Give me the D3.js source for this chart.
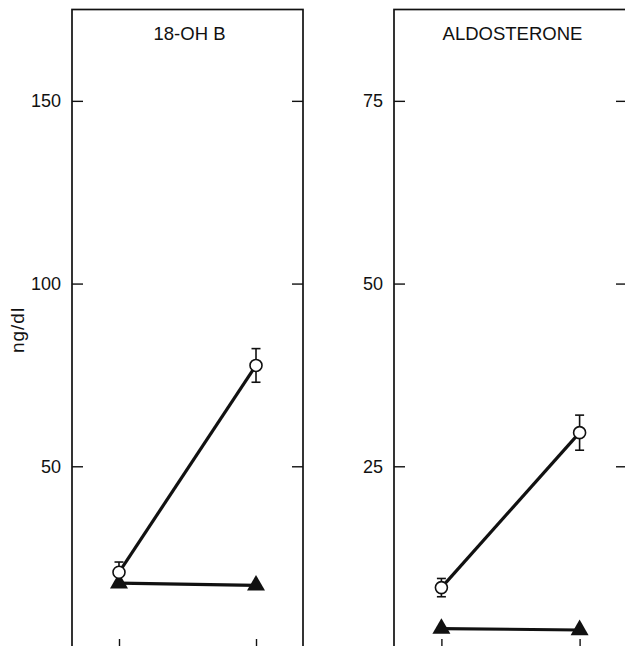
<!DOCTYPE html>
<html>
<head>
<meta charset="utf-8">
<script src="https://cdn.jsdelivr.net/npm/d3@7"></script>
<style>
  body { margin: 0; background: #fff; }
  text { font-family: "Liberation Sans", Arial, sans-serif; fill: #111; }
</style>
</head>
<body>
<svg id="chart"></svg>
<script>
// two sampling times (x labels are cut off in the original figure)
const sessions = ['before', 'after'];
const panelTitles = ['18-OH B', 'ALDOSTERONE'];
const yMax = [175, 87.5];
const yTicks = [[50, 100, 150], [25, 50, 75]];
// open circles: mean and SE
const circleMeans = [[21.0, 77.6], [8.4, 29.6]];
const circleErrors = [[2.8, 4.6], [1.25, 2.4]];
// filled triangles: mean
const triangleMeans = [[18.0, 17.4], [2.8, 2.6]];

const width = 625, height = 646;
const ink = '#111';

const svg = d3.select('#chart')
    .attr('width', width)
    .attr('height', height);

// panel frames in page pixels
const frames = [
  {left: 72, right: 303},
  {left: 394, right: 627}
];
const frameTop = 9.5, frameBottom = 649;

frames.forEach((f, i) => {
  const x = d3.scalePoint()
      .domain(sessions)
      .range([f.left, f.right])
      .padding(0.343);

  const y = d3.scaleLinear()
      .domain([0, yMax[i]])
      .range([frameBottom, frameTop]);

  const g = svg.append('g');

  // frame
  g.append('rect')
      .attr('x', f.left)
      .attr('y', frameTop)
      .attr('width', f.right - f.left)
      .attr('height', frameBottom - frameTop)
      .attr('fill', 'none')
      .attr('stroke', ink)
      .attr('stroke-width', 1.7);

  // left axis with inward ticks
  g.append('g')
      .attr('transform', `translate(${f.left},0)`)
      .call(d3.axisLeft(y).tickValues(yTicks[i]).tickSize(-11).tickPadding(11))
      .call(a => a.select('.domain').remove())
      .call(a => a.selectAll('line').attr('stroke', ink).attr('stroke-width', 1.4))
      .call(a => a.selectAll('text')
          .attr('font-size', 18)
          .attr('font-family', '"Liberation Sans", Arial, sans-serif')
          .attr('fill', ink));

  // right axis, ticks only
  g.append('g')
      .attr('transform', `translate(${f.right},0)`)
      .call(d3.axisRight(y).tickValues(yTicks[i]).tickSize(-11).tickFormat(''))
      .call(a => a.select('.domain').remove())
      .call(a => a.selectAll('line').attr('stroke', ink).attr('stroke-width', 1.4));

  // bottom ticks
  g.append('g')
      .attr('transform', `translate(0,${frameBottom})`)
      .call(d3.axisBottom(x).tickSize(-10).tickFormat(''))
      .call(a => a.select('.domain').remove())
      .call(a => a.selectAll('line').attr('stroke', ink).attr('stroke-width', 1.4));

  // title
  g.append('text')
      .attr('x', (f.left + f.right) / 2 + 2)
      .attr('y', 39.5)
      .attr('text-anchor', 'middle')
      .attr('font-size', 18.5)
      .text(panelTitles[i]);

  const circles = sessions.map((s, j) => ({s, v: circleMeans[i][j], e: circleErrors[i][j]}));
  const tris = sessions.map((s, j) => ({s, v: triangleMeans[i][j]}));

  // error bars
  const eb = g.selectAll('.err')
    .data(circles)
    .join('g')
      .attr('class', 'err')
      .attr('stroke', ink)
      .attr('stroke-width', 1.6);
  eb.append('line')
      .attr('x1', d => x(d.s)).attr('x2', d => x(d.s))
      .attr('y1', d => y(d.v - d.e)).attr('y2', d => y(d.v + d.e));
  eb.append('line')
      .attr('x1', d => x(d.s) - 4.5).attr('x2', d => x(d.s) + 4.5)
      .attr('y1', d => y(d.v + d.e)).attr('y2', d => y(d.v + d.e));
  eb.append('line')
      .attr('x1', d => x(d.s) - 4.5).attr('x2', d => x(d.s) + 4.5)
      .attr('y1', d => y(d.v - d.e)).attr('y2', d => y(d.v - d.e));

  const line = d3.line().x(d => x(d.s)).y(d => y(d.v));

  g.append('path')
      .datum(circles)
      .attr('d', line)
      .attr('fill', 'none')
      .attr('stroke', ink)
      .attr('stroke-width', 3.2);

  g.append('path')
      .datum(tris)
      .attr('d', line)
      .attr('fill', 'none')
      .attr('stroke', ink)
      .attr('stroke-width', 3.2);

  g.selectAll('.tri')
    .data(tris)
    .join('path')
      .attr('class', 'tri')
      .attr('transform', d => `translate(${x(d.s)},${y(d.v)})`)
      .attr('d', d3.symbol(d3.symbolTriangle, 140))
      .attr('fill', ink);

  g.selectAll('.pt')
    .data(circles)
    .join('circle')
      .attr('class', 'pt')
      .attr('cx', d => x(d.s))
      .attr('cy', d => y(d.v))
      .attr('r', 6)
      .attr('fill', '#fff')
      .attr('stroke', ink)
      .attr('stroke-width', 1.6);
});

// y axis label
svg.append('text')
    .attr('transform', 'translate(24,330) rotate(-90)')
    .attr('text-anchor', 'middle')
    .attr('font-size', 19)
    .attr('letter-spacing', 1)
    .text('ng/dl');
</script>
</body>
</html>
